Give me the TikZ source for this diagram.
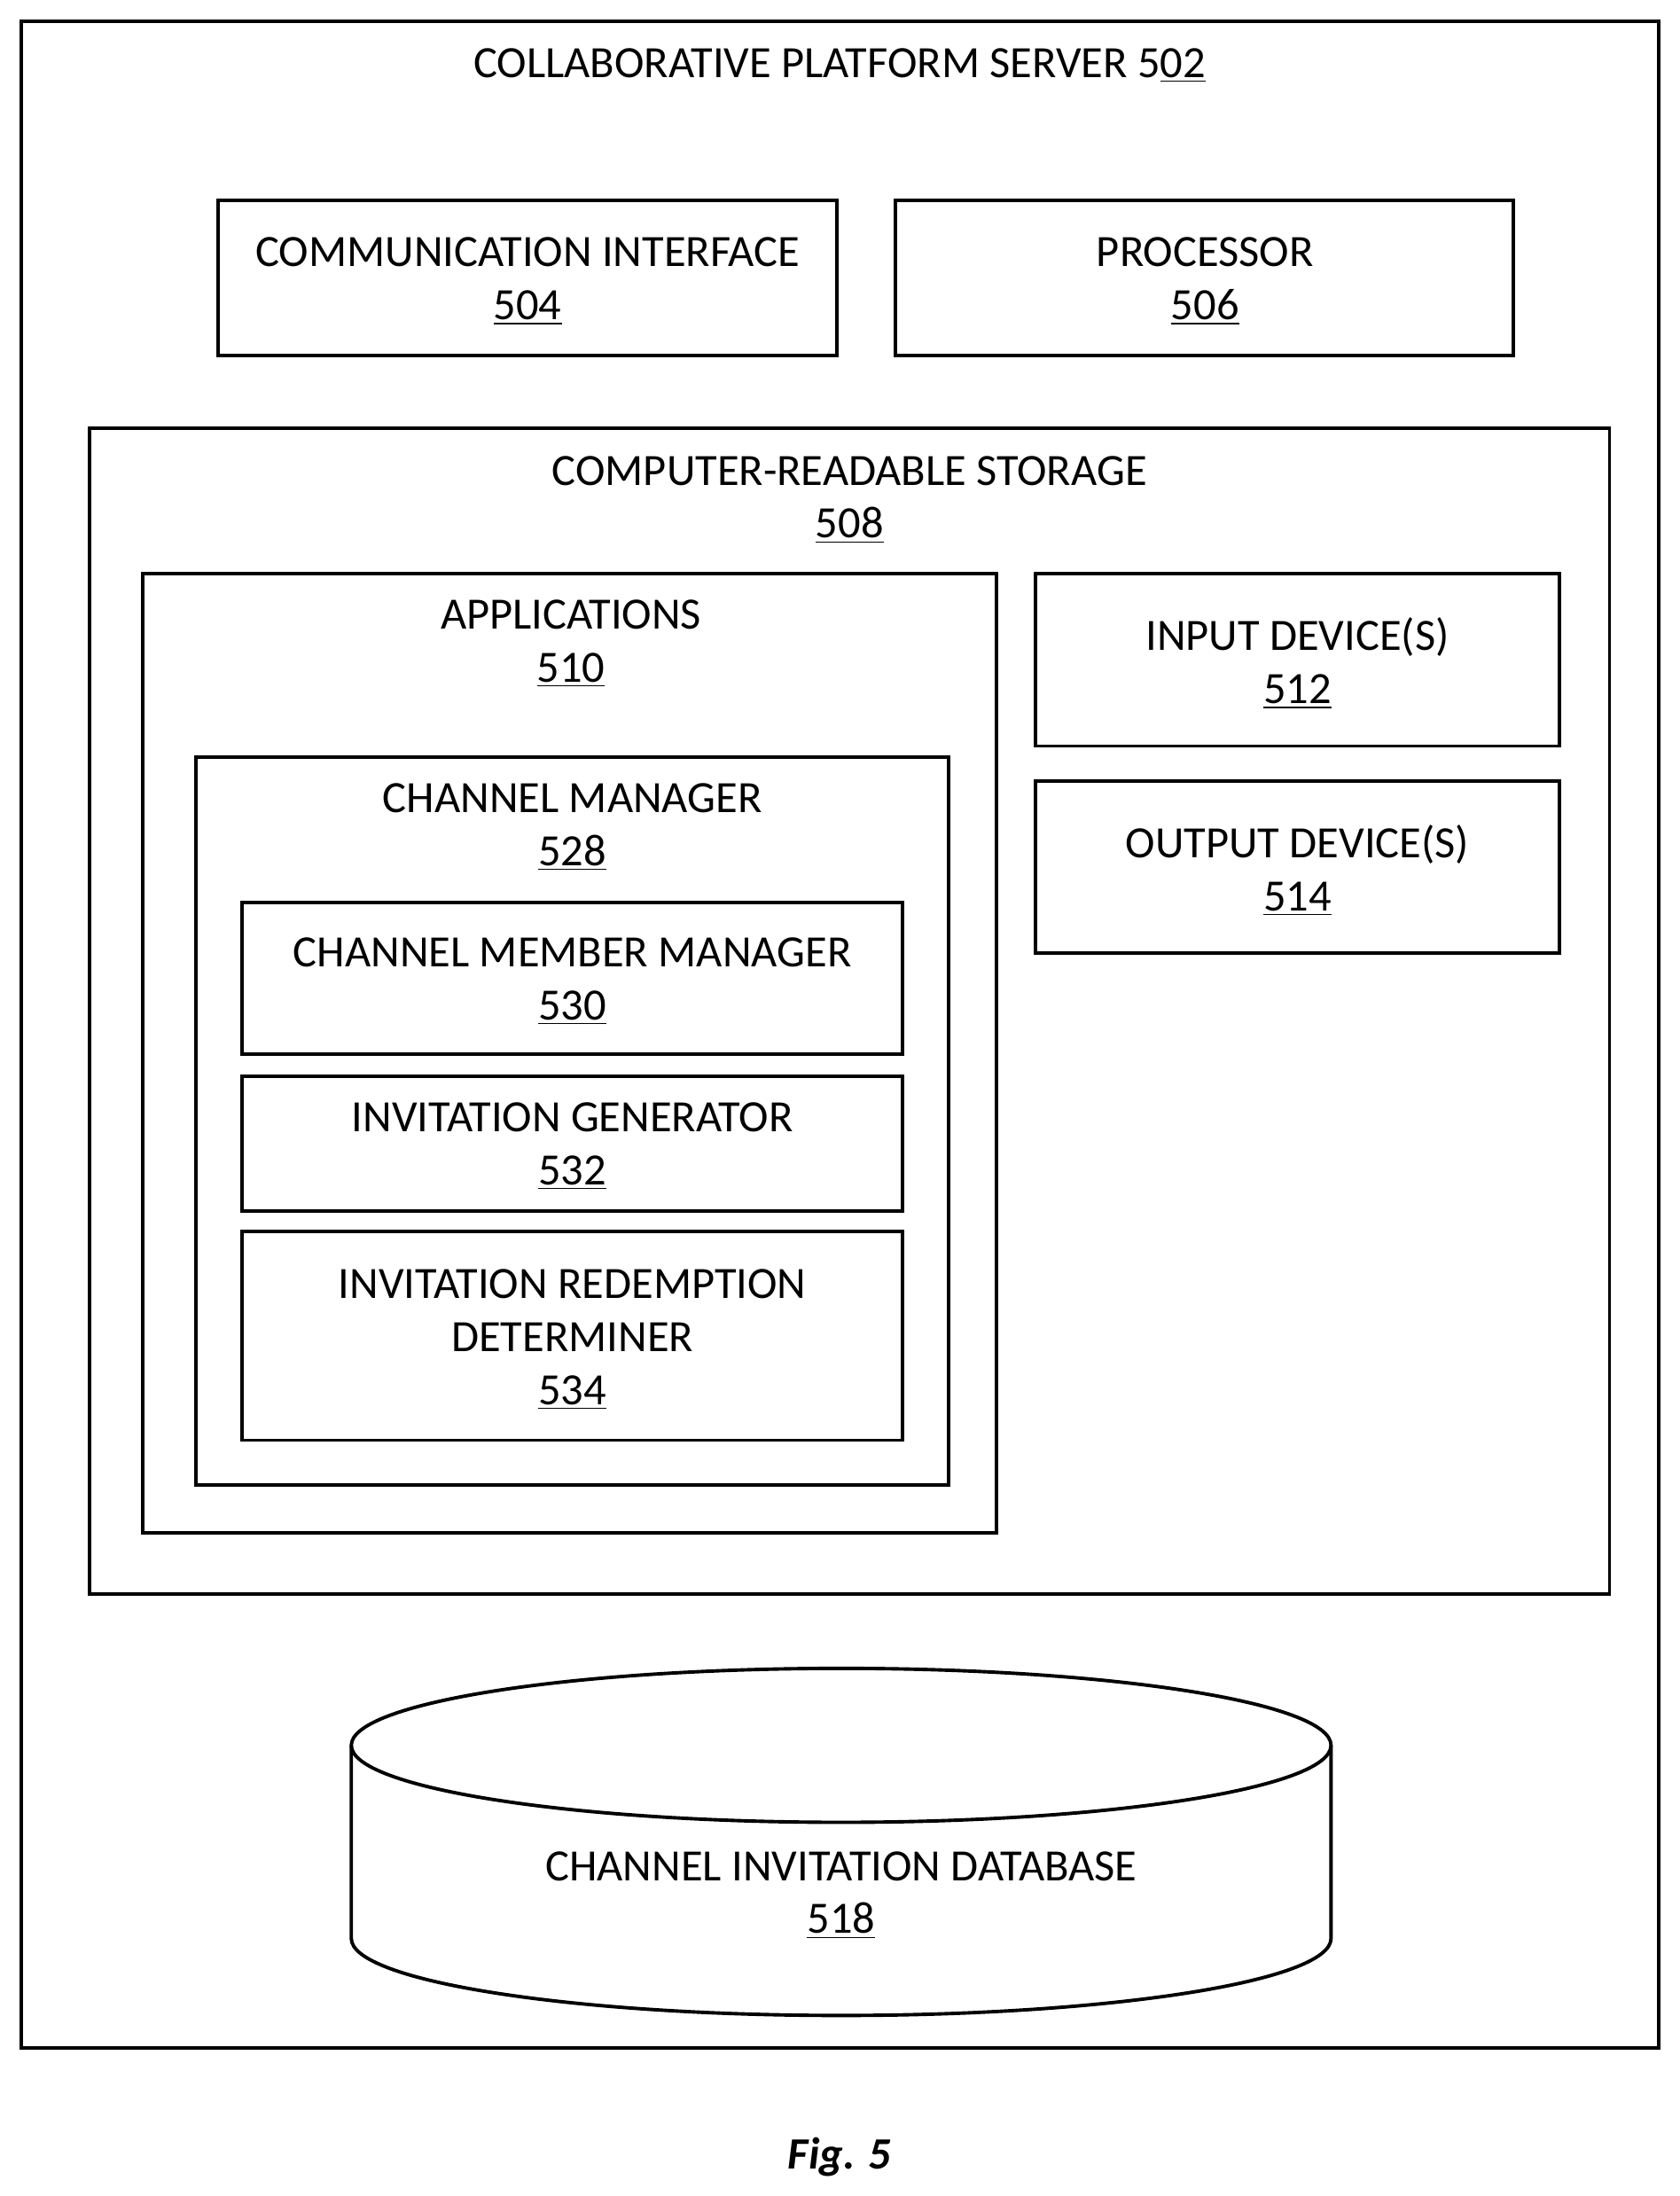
\documentclass[tikz,border=0pt]{standalone}
\usepackage{fontspec}
\setmainfont{Carlito}
\usetikzlibrary{shapes.geometric}
\tikzset{
  box/.style={draw, line width=1.4pt, rectangle, inner sep=0pt},
  lbl/.style={align=center, font=\fontsize{18.2}{21.6}\selectfont, inner sep=0pt}
}
\begin{document}
\begin{tikzpicture}[x=0.02cm,y=-0.02cm]
\useasboundingbox (0,0) rectangle (1200,1569);
% frames
\draw[box] (15,15) rectangle (1185,1463);
\draw[box] (156,143) rectangle (598,254);
\draw[box] (640,143) rectangle (1081,254);
\draw[box] (64,306) rectangle (1150,1139);
\draw[box] (102,410) rectangle (712,1095);
\draw[box] (740,410) rectangle (1114,533);
\draw[box] (740,558) rectangle (1114,681);
\draw[box] (140,541) rectangle (678,1061);
\draw[box] (173,645) rectangle (645,753);
\draw[box] (173,769) rectangle (645,865);
\draw[box] (173,880) rectangle (645,1029);
% database
\draw[box] (251,1247) -- (251,1385) arc[start angle=180, end angle=360, x radius=350, y radius=-55] -- (951,1247);
\draw[box] (601,1247) ellipse[x radius=350, y radius=55];
% labels
\node[lbl] (server) at (600,47) {COLLABORATIVE PLATFORM SERVER 5\underline{02}};
\node[lbl] (comm) at (377,201) {COMMUNICATION INTERFACE\\\underline{504}};
\node[lbl] (proc) at (861,201) {PROCESSOR\\\underline{506}};
\node[lbl] (store) at (607,357) {COMPUTER-READABLE STORAGE\\\underline{508}};
\node[lbl] (apps) at (408,460) {APPLICATIONS\\\underline{510}};
\node[lbl] (input) at (927,474) {INPUT DEVICE(S)\\\underline{512}};
\node[lbl] (output) at (927,622) {OUTPUT DEVICE(S)\\\underline{514}};
\node[lbl] (chmgr) at (409,591) {CHANNEL MANAGER\\\underline{528}};
\node[lbl] (member) at (409,701) {CHANNEL MEMBER MANAGER\\\underline{530}};
\node[lbl] (invgen) at (409,819) {INVITATION GENERATOR\\\underline{532}};
\node[lbl] (redeem) at (409,957) {INVITATION REDEMPTION\\DETERMINER\\\underline{534}};
\node[lbl] (db) at (601,1354) {CHANNEL INVITATION DATABASE\\\underline{518}};
\node[lbl, font=\fontsize{18.2}{21.6}\selectfont\bfseries\itshape] (fig) at (600,1541) {Fig. 5};
\end{tikzpicture}
\end{document}
